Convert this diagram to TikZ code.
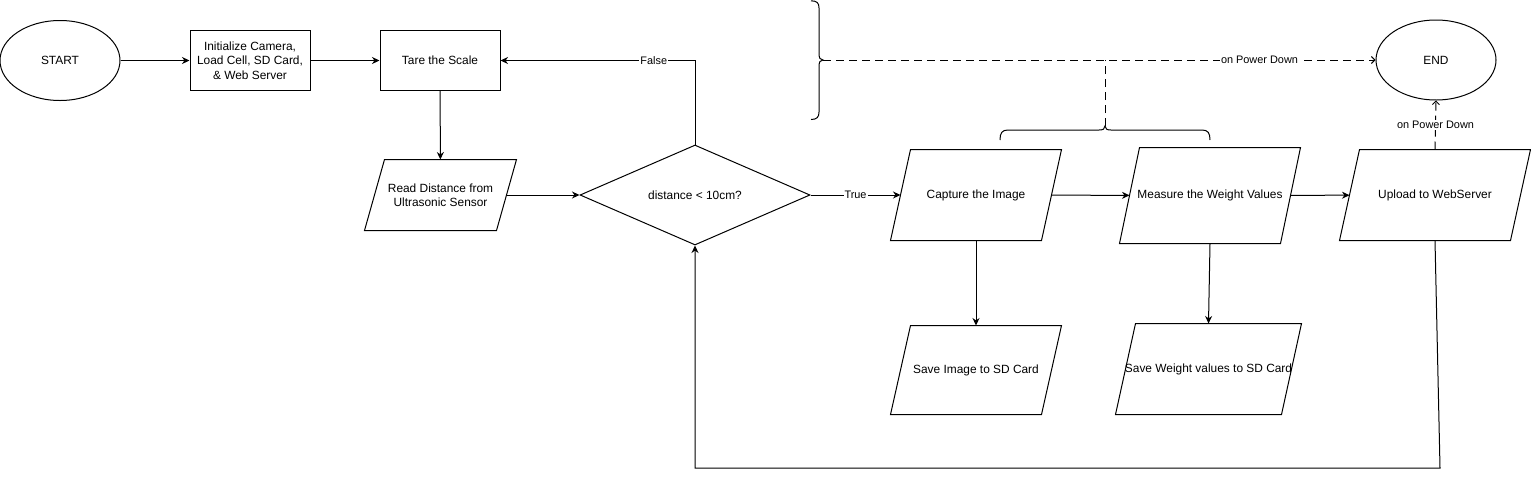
\documentclass[tikz,border=0pt]{standalone}
\usepackage{fontspec}
\setmainfont{Liberation Sans}
\usetikzlibrary{shapes.geometric,arrows.meta}
\begin{document}
\begin{tikzpicture}[x=1pt,y=-1pt, line width=1pt,
  font=\fontsize{11.9}{14.5}\selectfont,
  box/.style={draw, rectangle, minimum width=120pt, minimum height=60pt, inner sep=0pt, align=center},
  oval/.style={draw, ellipse, inner sep=0pt, minimum height=80pt},
  para/.style={rectangle, inner sep=0pt, align=center},
  arr/.style={-{Stealth[length=7.5pt,width=7pt,inset=2.4pt]}},
  openarr/.style={-{Straight Barb[length=3.5pt,width=7pt,line width=0.9pt]}},
  dsh/.style={dash pattern=on 8pt off 5pt},
  lbl/.style={fill=white, inner sep=1pt, font=\fontsize{10.9}{13}\selectfont}]
\useasboundingbox (0,0) rectangle (1531,480);

% nodes
\node[oval, minimum width=120pt] (start) at (60,60.5) {START};
\node[box] (init) at (250,60.5) {Initialize Camera,\\Load Cell, SD Card,\\\& Web Server};
\node[box] (tare) at (440,60.5) {Tare the Scale};
\node[para, minimum width=131pt, minimum height=70pt] (read) at (440.5,195) {Read Distance from\\Ultrasonic Sensor};
\node[draw, diamond, aspect=2.3, minimum width=230pt, minimum height=100pt, inner sep=0pt] (dec) at (695,195) {distance < 10cm?};
\node[para, minimum width=150pt, minimum height=90pt] (cap) at (976,195) {Capture the Image};
\node[para, minimum width=160pt, minimum height=95pt] (meas) at (1210,195.5) {Measure the Weight Values};
\node[para, minimum width=170pt, minimum height=90pt] (upl) at (1435,195) {Upload to WebServer};
\node[para, minimum width=150pt, minimum height=88pt] (simg) at (976,370) {Save Image to SD Card};
\node[para, minimum width=165pt, minimum height=90pt] (swt) at (1208.5,369) {\makebox[0pt]{Save Weight values to SD Card}};
\node[oval, minimum width=120pt] (end) at (1436,60) {END};

% parallelogram outlines
\foreach \n in {read,cap,meas,upl,simg,swt}
  \draw ([xshift=10pt]\n.north west) -- ([xshift=10pt]\n.north east)
     -- ([xshift=-10pt]\n.south east) -- ([xshift=-10pt]\n.south west) -- cycle;

% braces
\coordinate (btip) at (823,60);
\coordinate (stip) at (1105,126);
\draw (811,0.8) .. controls (817,0.8) and (819,3) .. (819,8) -- (819,53)
  .. controls (819,58) and (820,60) .. (btip)
  .. controls (820,60) and (819,62) .. (819,67) -- (819,112)
  .. controls (819,117) and (817,119.5) .. (811,119.5);
\draw (1000,140) .. controls (1000,133) and (1002,130) .. (1008,130) -- (1099,130)
  .. controls (1103,130) and (1105,129) .. (stip)
  .. controls (1105,129) and (1107,130) .. (1111,130) -- (1202,130)
  .. controls (1208,130) and (1210,133) .. (1210,140);
\coordinate (sjoin) at (1105,60);

% connectors
\draw[arr] (start) -- (init);
\draw[arr] (init) -- (tare);
\draw[arr] (tare) -- (read);
\draw[arr] (read) -- (dec);
\draw[arr] (dec.north) |- node[lbl, pos=0.606] {False} (tare.east);
\draw[arr] (dec.east) -- node[lbl] {True} (cap.west);
\draw[arr] (cap) -- (meas);
\draw[arr] (meas) -- (upl);
\draw[arr] (cap.south) -- (simg.north);
\draw[arr] (meas.south) -- (swt.north);
\draw[arr] (upl.south) -- (1440,468) -| (dec.south);
\draw[dsh, openarr] (btip) -- node[lbl, pos=0.79] {on Power Down} (end.west);
\draw[dsh] (stip) -- (sjoin);
\draw[dsh, openarr] (upl.north) -- node[lbl, pos=0.5] {on Power Down} (end.south);
\end{tikzpicture}
\end{document}
